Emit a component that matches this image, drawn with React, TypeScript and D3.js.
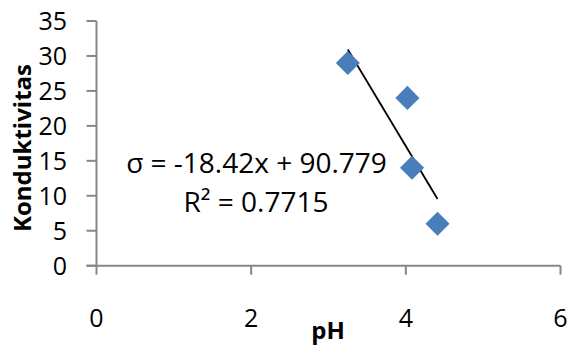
import React from 'react';
import * as d3 from 'd3';

// measured samples: pH vs conductivity
const phValues = [3.25, 4.02, 4.08, 4.41];
const conductivity = [29, 24, 14, 6];

const xTicks = [0, 2, 4, 6];
const yTicks = [0, 5, 10, 15, 20, 25, 30, 35];

// linear trendline as shown on the chart
const slope = -18.42;
const intercept = 90.779;
const rSquared = '0.7715';

const width = 568;
const height = 346;
const font = '"Open Sans", sans-serif';

const App = () => {
    const x = d3.scaleLinear().domain([0, 6]).range([96.5, 560.5]);
    const y = d3.scaleLinear().domain([0, 35]).range([265.7, 21]);

    const points = phValues.map((ph, i) => ({ ph: ph, value: conductivity[i] }));

    const pMin = d3.min(phValues);
    const pMax = d3.max(phValues);
    const trend = d3.line()
        .x(d => x(d[0]))
        .y(d => y(d[1]))([[pMin, slope * pMin + intercept], [pMax, slope * pMax + intercept]]);

    // square turned 45deg gives the excel diamond
    const diamond = d3.symbol().type(d3.symbolSquare).size(290)();

    const axisColor = '#868686';

    return (
        <svg width={width} height={height} style={{ position: 'absolute', left: 0, top: 0, background: '#fff' }}>
            {/* y axis */}
            <line x1={x(0)} x2={x(0)} y1={y(35)} y2={y(0)} stroke={axisColor} strokeWidth={2} />
            {yTicks.map(t => (
                <g key={'y' + t}>
                    <line x1={x(0) - 10} x2={x(0)} y1={y(t)} y2={y(t)} stroke={axisColor} strokeWidth={2} />
                    <text x={67} y={y(t)} dy="0.36em" textAnchor="end" fontFamily={font} fontSize={25} fill="#000">{t}</text>
                </g>
            ))}

            {/* x axis */}
            <line x1={x(0) - 10} x2={x(6)} y1={y(0)} y2={y(0)} stroke={axisColor} strokeWidth={2} />
            {xTicks.map(t => (
                <g key={'x' + t}>
                    <line x1={x(t)} x2={x(t)} y1={y(0)} y2={y(0) + 9} stroke={axisColor} strokeWidth={2} />
                    <text x={x(t)} y={327} textAnchor="middle" fontFamily={font} fontSize={25} fill="#000">{t}</text>
                </g>
            ))}

            {/* axis titles */}
            <text x={328} y={339} textAnchor="middle" fontFamily={font} fontSize={24} fontWeight="bold" fill="#000">pH</text>
            <text transform="translate(31,148) rotate(-90)" textAnchor="middle" fontFamily={font} fontSize={24} fontWeight="bold" fill="#000">Konduktivitas</text>

            {/* trendline */}
            <path d={trend} fill="none" stroke="#000" strokeWidth={1.8} />

            {/* points */}
            {points.map((p, i) => (
                <path key={i} d={diamond} fill="#4a7ebb"
                    transform={'translate(' + x(p.ph) + ',' + y(p.value) + ') rotate(45)'} />
            ))}

            {/* trendline label */}
            <text x={256.5} y={173} textAnchor="middle" fontFamily={font} fontSize={28} fill="#000">
                {'σ = ' + slope + 'x + ' + intercept}
            </text>
            <text x={256} y={212} textAnchor="middle" fontFamily={font} fontSize={28} fill="#000">
                {'R² = ' + rSquared}
            </text>
        </svg>
    );
};

export default App;
